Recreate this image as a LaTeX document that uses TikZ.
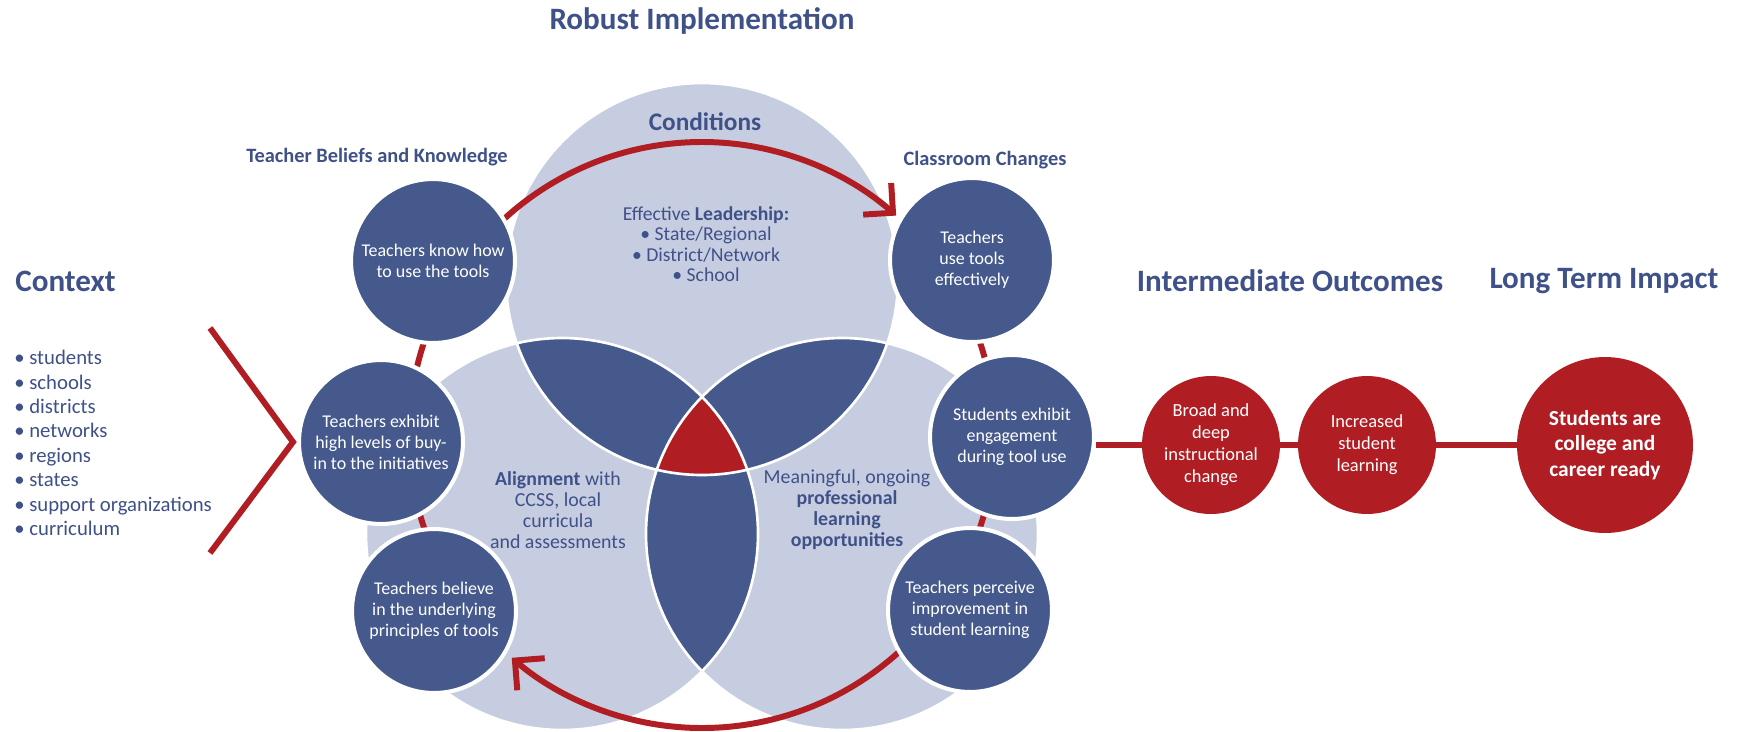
\documentclass[tikz,border=0pt]{standalone}
\usepackage{fontspec}
\setmainfont{Carlito}
\usepackage{tikz}
\usetikzlibrary{arrows.meta}
\definecolor{toolblue}{RGB}{70,89,140}
\definecolor{paleblue}{RGB}{199,205,224}
\definecolor{outred}{RGB}{176,30,36}
\definecolor{headblue}{RGB}{63,81,137}

\begin{document}
\begin{tikzpicture}[x=0.02cm,y=0.02cm,>={Straight Barb[angle=90:17pt]},
  tool node/.style={circle,fill=toolblue,draw=white,line width=2.3pt,minimum size=3.28cm,inner sep=0pt,align=center,text=white,font=\fontsize{10.2}{12}\selectfont},
  out node/.style={circle,fill=outred,minimum size=2.76cm,inner sep=0pt,align=center,text=white,font=\fontsize{10.5}{12.5}\selectfont},
  head/.style={text=headblue,font=\fontsize{17.7}{20}\selectfont\bfseries},
  subhead/.style={text=headblue,font=\fontsize{11.6}{14}\selectfont\bfseries},
  venn text/.style={text=headblue,align=center,font=\fontsize{11.3}{12}\selectfont},
  ring/.style={draw=outred,line width=3.4pt},
  link/.style={draw=outred,line width=3.4pt}]
  \fill[white] (0,0) rectangle (1741,-731);
  \useasboundingbox (0,0) rectangle (1741,-731);

  % the three conditions
  \coordinate (cond) at (702,-279);
  \coordinate (align) at (562,-534);
  \coordinate (prof) at (842,-534);
  \fill[paleblue] (cond) circle[radius=196] (align) circle[radius=196] (prof) circle[radius=196];
  \begin{scope}
    \clip (cond) circle[radius=196];
    \fill[toolblue] (align) circle[radius=196];
    \fill[toolblue] (prof) circle[radius=196];
  \end{scope}
  \begin{scope}
    \clip (align) circle[radius=196];
    \fill[toolblue] (prof) circle[radius=196];
  \end{scope}
  \begin{scope}
    \clip (cond) circle[radius=196];
    \clip (align) circle[radius=196];
    \fill[outred] (prof) circle[radius=196];
  \end{scope}
  \draw[white,line width=1.5pt] (cond) circle[radius=196] (align) circle[radius=196] (prof) circle[radius=196];

  \node[text=headblue,font=\fontsize{14.4}{16}\selectfont\bfseries] (condtitle) at (705,-122) {Conditions};
  \node[venn text,font=\fontsize{11.2}{11.7}\selectfont] (leader) at (706,-244) {Effective \textbf{Leadership:}\\ • State/Regional\\ • District/Network\\ • School};
  \node[venn text] (alignment) at (558,-510) {\textbf{Alignment} with\\ CCSS, local\\ curricula\\ and assessments};
  \node[venn text] (profdev) at (847,-510) {Meaningful, ongoing\\ \textbf{professional}\\ \textbf{learning}\\ \textbf{opportunities}};

  % red loop round the six circles
  \coordinate (hub) at (702,-435);
  \draw[ring,->] (hub) ++(140:293) arc[start angle=140,end angle=48.5,radius=293];
  \draw[ring,->] (hub) ++(-40:293) arc[start angle=-40,end angle=-130.5,radius=293];
  \draw[ring] (hub) ++(147:293) arc[start angle=147,end angle=213,radius=293];
  \draw[ring] (hub) ++(33:293) arc[start angle=33,end angle=-33,radius=293];

  \node[tool node] (know) at (433,-261) {Teachers know how\\ to use the tools};
  \node[tool node] (buyin) at (381,-442) {Teachers exhibit\\ high levels of buy-\\ in to the initiatives};
  \node[tool node] (believe) at (434,-611) {Teachers believe\\ in the underlying\\ principles of tools};
  \node[tool node] (use) at (972,-260) {Teachers\\ use tools\\ effectively};
  \node[tool node] (engage) at (1012,-437) {Students exhibit\\ engagement\\ during tool use};
  \node[tool node] (perceive) at (970,-610) {Teachers perceive\\ improvement in\\ student learning};

  % headings
  \node[head] (robust) at (702,-21) {Robust Implementation};
  \node[subhead] (beliefs) at (377,-157) {Teacher Beliefs and Knowledge};
  \node[subhead] (classroom) at (985,-160) {Classroom Changes};
  \node[head,anchor=west,inner sep=0pt] (context) at (15,-281) {Context};
  \node[head] (inter) at (1290,-281) {Intermediate Outcomes};
  \node[head] (longterm) at (1604,-281) {Long Term Impact};

  % context
  \node[anchor=west,inner sep=0pt,align=left,text=headblue,font=\fontsize{11.8}{13.9}\selectfont] (ctxlist) at (14,-443)
    {• students\\ • schools\\ • districts\\ • networks\\ • regions\\ • states\\ • support organizations\\ • curriculum};
  \draw[link] (210,-328) -- (293,-442) -- (210,-553);

  % outcomes
  \node[out node] (broad) at (1211,-445) {Broad and\\ deep\\ instructional\\ change};
  \node[out node] (learn) at (1367,-445) {Increased\\ student\\ learning};
  \node[out node,minimum size=3.52cm,font=\fontsize{12.2}{14.6}\selectfont\bfseries] (ready) at (1605,-445) {Students are\\ college and\\ career ready};
  \draw[link] (engage.east |- broad) -- (broad);
  \draw[link] (broad) -- (learn);
  \draw[link] (learn) -- (ready);
\end{tikzpicture}
\end{document}
